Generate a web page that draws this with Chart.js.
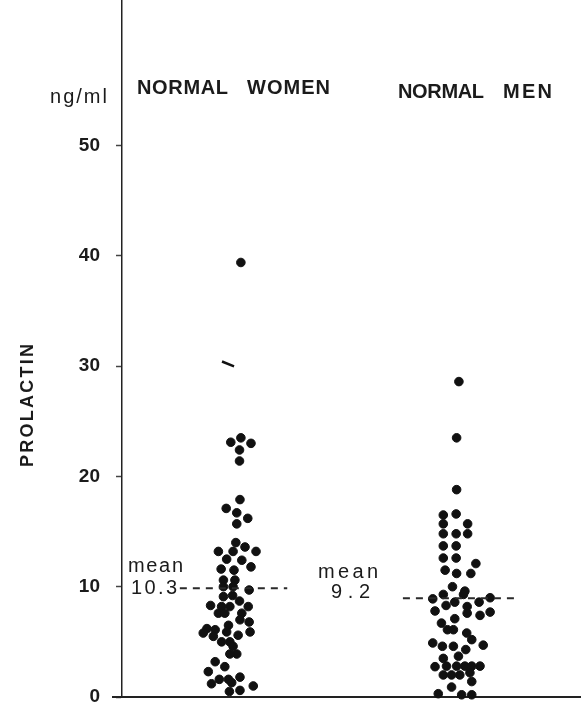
<!DOCTYPE html>
<html>
<head>
<meta charset="utf-8">
<script src="https://cdn.jsdelivr.net/npm/chart.js@4.4.0/dist/chart.umd.min.js"></script>
<style>
    html, body { margin: 0; padding: 0; background: #ffffff; }
    #wrap { width: 581px; height: 703px; }
</style>
</head>
<body>
<div id="wrap"><canvas id="prolactinChart" width="581" height="703"></canvas></div>
<script>
// ======================
// Data (ng/ml)
// ======================

const groupNames = ['NORMAL WOMEN', 'NORMAL MEN'];
const groupCenters = [25, 73];

const womenValues = [39.4, 23.5, 23.1, 23.0, 22.4, 21.4, 17.9, 17.1, 16.7, 16.2, 15.7, 14.0, 13.6, 13.2, 13.2, 13.2,
    12.5, 12.4, 11.8, 11.6, 11.5, 10.6, 10.6, 10.0, 10.0, 9.7, 9.1, 9.2, 8.7, 8.3, 8.2, 8.2, 8.2, 7.6, 7.6, 7.6,
    7.0, 6.8, 6.5, 6.2, 6.1, 5.8, 5.9, 5.9, 5.6, 5.5, 5.0, 5.0, 4.6, 3.9, 3.9, 3.2, 2.75, 2.3, 1.8, 1.2, 1.6, 1.6,
    1.3, 1.0, 0.6, 0.5];
const womenJitter = [0.9, 0.9, -1.3, 3.1, 0.6, 0.6, 0.7, -2.3, 0, 2.4, 0, -0.2, 1.8, -4.0, -0.8, 4.2,
    -2.2, 1.1, 3.1, -3.4, -0.6, -2.9, -0.4, -2.9, -0.8, 2.7, -2.9, -0.9, 0.6, -5.7, -3.3, -1.5, 2.5, -4.0, -2.6, 1.1,
    0.7, 2.7, -1.8, -6.5, -4.7, -7.3, 2.9, -2.2, 0.3, -5.1, -3.3, -1.5, -0.8, 0, -1.5, -4.7, -2.6, -6.2, 0.7, -5.5, -3.8, -1.8,
    -1.1, 3.6, 0.7, -1.6];

// one value in the women column is printed as a short stroke instead of a dot
const womenStrokeValues = [30.2];
const womenStrokeJitter = [-1.9];

const menValues = [28.6, 23.5, 18.8, 16.5, 16.6, 15.7, 15.7, 14.8, 14.8, 14.8, 13.7, 13.7, 12.6, 12.6, 12.1,
    11.5, 11.2, 11.2, 10.0, 9.6, 9.3, 9.3, 8.9, 8.6, 8.6, 9.0, 8.3, 7.8, 8.2, 7.6, 7.4, 7.7, 7.1, 6.7, 6.1, 6.1,
    5.8, 5.2, 4.9, 4.6, 4.6, 4.3, 4.7, 3.5, 3.7, 2.75, 2.8, 2.8, 2.8, 2.8, 2.8, 2.0, 2.0, 2.0, 2.2, 1.4, 0.9,
    0.3, 0.2, 0.2];
const menJitter = [0.4, -0.1, -0.1, -3.0, -0.2, -3.0, 2.3, -3.0, -0.2, 2.3, -3.0, -0.2, -3.0, -0.2, 4.1,
    -2.6, -0.1, 3.0, -1.0, 1.7, -3.0, 1.4, -5.3, -0.5, 4.8, 7.2, -2.4, -4.8, 2.2, 2.2, 5.0, 7.2, -0.5, -3.4, -2.1, -0.8,
    2.1, 3.2, -5.3, -3.2, -0.8, 1.9, 5.7, -3.0, 0.3, -4.8, -2.3, -0.1, 1.7, 3.2, 5.0, -3.0, -1.2, 0.6, 2.8, 3.2, -1.2,
    -4.1, 1.0, 3.2];

// mean lines: printed label, drawn level and horizontal extent
const meanLabels = ['10.3', '9.2'];
const meanLevels = [9.85, 8.95];
const meanFrom = [12.6, 61.2];
const meanTo = [36.0, 86.1];

const yTicks = [0, 10, 20, 30, 40, 50];
const yMax = 63.2;

// ======================
// Helpers
// ======================

function toPoints(values, jitter, center) {
    return values.map((v, i) => ({ x: center + jitter[i], y: v }));
}

function meanLine(i) {
    return [{ x: meanFrom[i], y: meanLevels[i] }, { x: meanTo[i], y: meanLevels[i] }];
}

// draws text spread between left and right (old typeset look)
function spacedText(ctx, text, left, right, y) {
    const chars = [...text];
    const widths = chars.map(c => ctx.measureText(c).width);
    const total = widths.reduce((a, b) => a + b, 0);
    const gap = chars.length > 1 ? (right - left - total) / (chars.length - 1) : 0;
    let x = left;
    chars.forEach((c, i) => {
        ctx.fillText(c, x, y);
        x += widths[i] + gap;
    });
}

const textColor = '#1b1b1b';
const fontName = '"Liberation Sans", Arial, Helvetica, sans-serif';

// ======================
// Labels plugin
// ======================

const labelsPlugin = {
    id: 'labels',
    afterDraw(chart) {
        const ctx = chart.ctx;
        const area = chart.chartArea;
        ctx.save();

        // x axis runs a little past the y axis on the left
        ctx.strokeStyle = '#222222';
        ctx.lineWidth = 2;
        ctx.beginPath();
        ctx.moveTo(112, area.bottom);
        ctx.lineTo(area.left, area.bottom);
        ctx.stroke();

        ctx.fillStyle = textColor;
        ctx.textAlign = 'left';
        ctx.textBaseline = 'middle';

        ctx.font = '20px ' + fontName;
        spacedText(ctx, 'ng/ml', 50, 107, 97);

        ctx.font = 'bold 20px ' + fontName;
        const [w1, w2] = groupNames[0].split(' ');
        const [m1, m2] = groupNames[1].split(' ');
        spacedText(ctx, w1, 137, 228, 88);
        spacedText(ctx, w2, 247, 330, 88);
        spacedText(ctx, m1, 398, 484, 92);
        spacedText(ctx, m2, 503, 552, 92);

        ctx.font = '20px ' + fontName;
        spacedText(ctx, 'mean', 128, 183, 566);
        spacedText(ctx, meanLabels[0], 131, 177, 588);
        spacedText(ctx, 'mean', 318, 378, 572);
        spacedText(ctx, meanLabels[1], 331, 370, 592);

        // y axis title
        ctx.translate(28, 406);
        ctx.rotate(-Math.PI / 2);
        ctx.font = 'bold 18px ' + fontName;
        spacedText(ctx, 'PROLACTIN', -61, 62, 0);
        ctx.restore();
    }
};

// ======================
// Chart
// ======================

const dotStyle = {
    type: 'scatter',
    backgroundColor: '#111111',
    borderColor: '#111111',
    pointRadius: 4.3,
    pointHoverRadius: 4.3,
    clip: false
};

const dashStyle = {
    type: 'scatter',
    showLine: true,
    borderColor: '#2a2a2a',
    borderWidth: 2,
    borderDash: [7, 6],
    pointRadius: 0,
    clip: false
};

new Chart(document.getElementById('prolactinChart').getContext('2d'), {
    type: 'scatter',
    data: {
        datasets: [
            { ...dashStyle, label: 'mean women', data: meanLine(0) },
            { ...dashStyle, label: 'mean men', data: meanLine(1) },
            { ...dotStyle, label: groupNames[0], data: toPoints(womenValues, womenJitter, groupCenters[0]) },
            {
                type: 'scatter',
                label: groupNames[0] + ' (stroke)',
                data: toPoints(womenStrokeValues, womenStrokeJitter, groupCenters[0]),
                pointStyle: 'line',
                rotation: 22,
                pointRadius: 6.5,
                borderWidth: 2.5,
                borderColor: '#111111',
                clip: false
            },
            { ...dotStyle, label: groupNames[1], data: toPoints(menValues, menJitter, groupCenters[1]) }
        ]
    },
    options: {
        responsive: false,
        devicePixelRatio: 1,
        animation: false,
        layout: { padding: 0, autoPadding: false },
        plugins: {
            legend: { display: false },
            tooltip: { enabled: false }
        },
        scales: {
            x: {
                type: 'linear',
                min: 0,
                max: 100,
                grid: { display: false },
                ticks: { display: false },
                border: { display: true, color: '#222222', width: 2 },
                afterFit: scale => {
                    scale.height = 6;
                    scale.paddingLeft = 0;
                    scale.paddingRight = 0;
                }
            },
            y: {
                type: 'linear',
                min: 0,
                max: yMax,
                afterBuildTicks: axis => { axis.ticks = yTicks.map(v => ({ value: v })); },
                ticks: {
                    color: textColor,
                    font: { family: fontName, size: 19, weight: 'bold' },
                    padding: 16
                },
                grid: {
                    display: true,
                    drawOnChartArea: false,
                    drawTicks: true,
                    tickLength: 6,
                    tickWidth: 1.5,
                    tickColor: '#444444'
                },
                border: { display: true, color: '#222222', width: 1.5 },
                afterFit: scale => {
                    scale.width = 122;
                    scale.paddingTop = 0;
                    scale.paddingBottom = 0;
                }
            }
        }
    },
    plugins: [labelsPlugin]
});
</script>
</body>
</html>
